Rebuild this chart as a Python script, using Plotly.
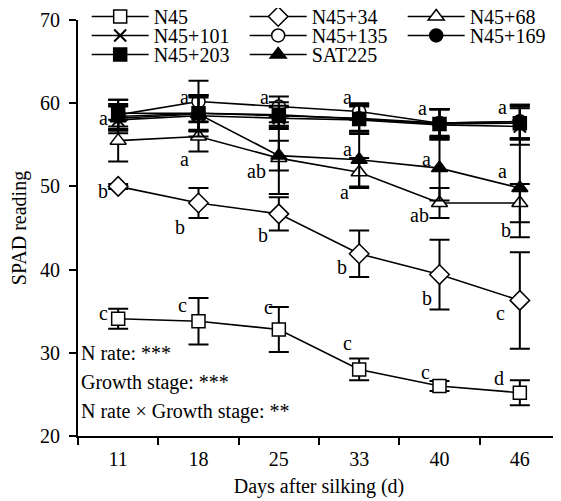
import plotly.graph_objects as go

days = ["11", "18", "25", "33", "40", "46"]

n45 = [34.1, 33.8, 32.8, 28.0, 26.0, 25.2]
n45_err = [1.2, 2.8, 2.7, 1.3, 0.6, 1.5]
n45_34 = [50.0, 48.0, 46.7, 41.9, 39.4, 36.3]
n45_34_err = [0.3, 1.8, 2.0, 2.8, 4.2, 5.8]
n45_68 = [55.5, 56.0, 53.4, 51.7, 48.0, 48.0]
n45_68_err = [2.5, 1.8, 4.3, 1.7, 1.8, 2.3]
n45_101 = [58.0, 58.5, 58.2, 58.0, 57.4, 57.2]
n45_101_err = [1.6, 2.5, 1.3, 1.6, 1.8, 2.2]
n45_135 = [58.6, 60.2, 59.6, 59.0, 57.6, 57.8]
n45_135_err = [1.8, 2.5, 1.2, 1.0, 1.7, 2.0]
n45_169 = [58.4, 58.8, 58.5, 58.2, 57.6, 57.8]
n45_169_err = [1.5, 2.2, 1.2, 1.5, 1.7, 2.0]
n45_203 = [58.8, 58.8, 58.6, 58.1, 57.5, 57.6]
n45_203_err = [1.6, 2.0, 1.5, 1.8, 1.8, 2.0]
sat225 = [58.2, 58.7, 53.7, 53.2, 52.2, 49.8]
sat225_err = [1.5, 2.0, 1.8, 3.4, 3.9, 5.9]

# significance letters: (day, y value, text, horizontal offset px)
letters = [
    ("11", 58.2, "a", -15), ("11", 49.5, "b", -15), ("11", 34.8, "c", -15),
    ("18", 60.7, "a", -14), ("18", 53.3, "a", -14), ("18", 45.1, "b", -19), ("18", 35.8, "c", -16),
    ("25", 60.7, "a", -14), ("25", 51.9, "ab", -22), ("25", 44.2, "b", -16), ("25", 35.5, "c", -10),
    ("33", 60.7, "a", -12), ("33", 54.5, "a", -12), ("33", 49.3, "a", -15), ("33", 40.3, "b", -17), ("33", 31.2, "c", -12),
    ("40", 59.4, "a", -17), ("40", 53.3, "a", -13), ("40", 46.6, "ab", -20), ("40", 36.6, "b", -13), ("40", 27.7, "c", -14),
    ("46", 59.5, "a", -17), ("46", 51.9, "a", -17), ("46", 44.8, "b", -14), ("46", 34.8, "c", -19), ("46", 27.0, "d", -21),
]

stats = ["N rate: ***", "Growth stage: ***", "N rate \u00d7 Growth stage: **"]
stats_y = [30.0, 26.4, 23.0]

FONT = "Liberation Serif, Times New Roman, serif"
FS = 20

series = [
    ("N45", n45, n45_err, "square", "white", "legend"),
    ("N45+34", n45_34, n45_34_err, "diamond", "white", "legend"),
    ("N45+68", n45_68, n45_68_err, "triangle-up", "white", "legend"),
    ("N45+101", n45_101, n45_101_err, "x-thin", "black", "legend2"),
    ("N45+135", n45_135, n45_135_err, "circle", "white", "legend2"),
    ("N45+169", n45_169, n45_169_err, "circle", "black", "legend2"),
    ("N45+203", n45_203, n45_203_err, "square", "black", "legend3"),
    ("SAT225", sat225, sat225_err, "triangle-up", "black", "legend3"),
]

fig = go.Figure()
for name, vals, errs, sym, fill, leg in series:
    size = 13
    if sym == "diamond":
        size = 15
    if sym == "triangle-up":
        size = 14
    if sym == "x-thin":
        size = 12
    fig.add_trace(go.Scatter(
        x=days, y=vals, name=name, mode="lines+markers",
        legend=leg,
        line=dict(color="black", width=1.6),
        marker=dict(symbol=sym, size=size, color=fill,
                    line=dict(color="black", width=2 if sym == "x-thin" else 1.5)),
        error_y=dict(type="data", array=errs, visible=True, color="black",
                     thickness=2, width=10),
    ))

annotations = []
for d, yv, t, xs in letters:
    annotations.append(dict(x=days.index(d), y=yv, xref="x", yref="y", text=t, showarrow=False,
                            xshift=xs, font=dict(family=FONT, size=FS, color="black")))
for t, yv in zip(stats, stats_y):
    annotations.append(dict(x=0, y=yv, xref="paper", yref="y", text=t, showarrow=False,
                            xanchor="left", xshift=1, font=dict(family=FONT, size=FS, color="black")))

leg_common = dict(orientation="h", xanchor="left", yanchor="middle", x=0.018,
                  font=dict(family=FONT, size=FS, color="black"),
                  bgcolor="rgba(0,0,0,0)", entrywidth=86, itemwidth=57,
                  traceorder="normal")

# the page body adds an 8px offset; compensate so the plot lands where the reference has it
OFF = 8
PH = 416.5
TOP = 19.5 - OFF
fig.update_layout(
    width=561 - OFF, height=501 - OFF,
    margin=dict(l=78 - OFF, r=1, t=TOP, b=65, autoexpand=False),
    paper_bgcolor="white", plot_bgcolor="white",
    font=dict(family=FONT, size=FS, color="black"),
    showlegend=True,
    legend=dict(leg_common, y=1 + (19.5 - 16) / PH),
    legend2=dict(leg_common, y=1 + (19.5 - 35) / PH),
    legend3=dict(leg_common, y=1 + (19.5 - 54) / PH),
    annotations=annotations,
    xaxis=dict(type="category", range=[-0.5, 5.5], tickson="boundaries",
               showline=True, linecolor="black", linewidth=2,
               ticks="outside", ticklen=7, tickwidth=2, tickcolor="black",
               showgrid=False, zeroline=False, ticklabelstandoff=4,
               tickfont=dict(family=FONT, size=FS),
               title=dict(text="Days after silking (d)", font=dict(family=FONT, size=FS), standoff=10)),
    yaxis=dict(range=[20, 70], tickvals=[20, 30, 40, 50, 60, 70],
               showline=True, linecolor="black", linewidth=2,
               ticks="outside", ticklen=7, tickwidth=2, tickcolor="black",
               showgrid=False, zeroline=False, ticklabelstandoff=5,
               tickfont=dict(family=FONT, size=FS),
               title=dict(text="SPAD reading", font=dict(family=FONT, size=FS), standoff=20)),
)

fig.write_html("out.html")
